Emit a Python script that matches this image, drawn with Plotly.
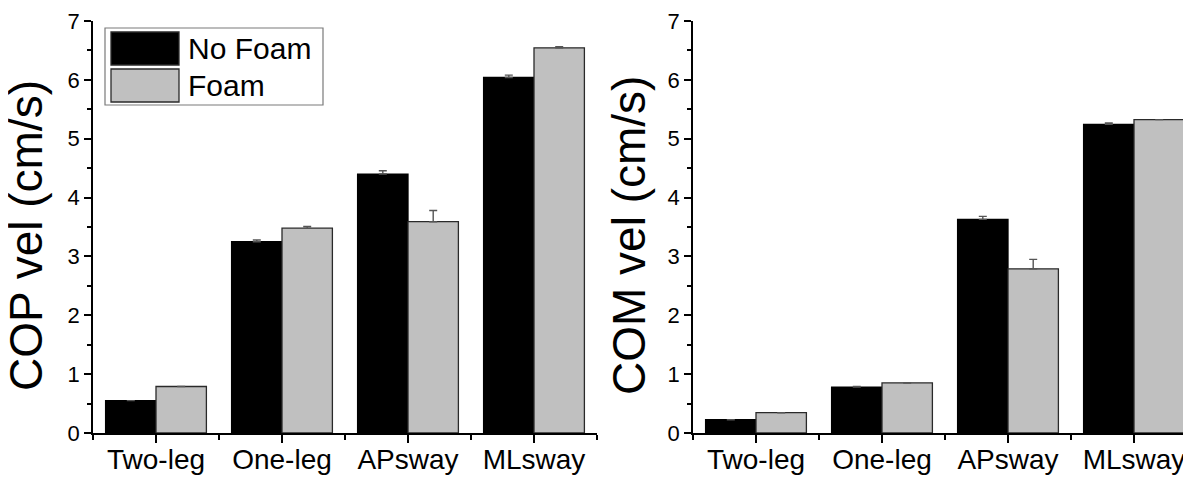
import plotly.graph_objects as go

# The page body has an 8px default margin; compensate so the chart lands
# at the same pixel positions as the reference inside a 1191x478 window.
OFF = 8
WIN_W, WIN_H = 1191, 478
W, H = WIN_W - OFF, WIN_H - OFF

categories = ["Two-leg", "One-leg", "APsway", "MLsway"]
series_names = ["No Foam", "Foam"]

cop_nofoam = [0.55, 3.25, 4.40, 6.04]
cop_nofoam_err = [0.0, 0.03, 0.055, 0.04]
cop_foam = [0.79, 3.48, 3.59, 6.545]
cop_foam_err = [0.0, 0.03, 0.19, 0.02]

com_nofoam = [0.225, 0.78, 3.63, 5.245]
com_nofoam_err = [0.0, 0.012, 0.05, 0.022]
com_foam = [0.345, 0.85, 2.79, 5.325]
com_foam_err = [0.0, 0.0, 0.16, 0.0]

y_titles = ["COP vel (cm/s)", "COM vel (cm/s)"]

FONT = "Arial, 'Liberation Sans', sans-serif"
colors = ["#000000", "#c0c0c0"]
outlines = ["#000000", "#2a2a2a"]

xpos = list(range(len(categories)))


def px(x):
    return (x - OFF) / W


def py(y):
    return 1 - (y - OFF) / H


fig = go.Figure()

panels = [
    ("x", "y", [cop_nofoam, cop_foam], [cop_nofoam_err, cop_foam_err]),
    ("x2", "y2", [com_nofoam, com_foam], [com_nofoam_err, com_foam_err]),
]
for xa, ya, vals, errs in panels:
    for i, name in enumerate(series_names):
        fig.add_trace(go.Bar(
            x=xpos, y=vals[i], name=name, xaxis=xa, yaxis=ya,
            offsetgroup=str(i),
            marker=dict(color=colors[i], line=dict(color=outlines[i], width=1.3)),
            error_y=dict(type="data", array=errs[i], arrayminus=[0] * len(errs[i]),
                         symmetric=False, color="#555555", thickness=1.4, width=4),
            showlegend=False,
        ))

axis_common = dict(
    showline=True, linecolor="black", linewidth=1.5, mirror=False,
    showgrid=False, zeroline=False, ticks="outside", tickcolor="black",
    tickwidth=1.5, automargin=False,
)

xcommon = dict(axis_common, tickmode="array", tickvals=xpos, ticktext=categories,
               ticklen=8, ticklabelstandoff=-7,
               tickfont=dict(family=FONT, size=28, color="black"),
               minor=dict(tick0=0.5, dtick=1, ticks="outside", ticklen=5,
                          tickwidth=1.5, tickcolor="black"))
ycommon = dict(axis_common, range=[0, 7], dtick=1, ticklen=7,
               tickfont=dict(family=FONT, size=22, color="black"),
               minor=dict(dtick=0.5, ticks="outside", ticklen=4,
                          tickwidth=1.5, tickcolor="black"))

ydom = [py(433), py(21)]
fig.update_layout(
    width=W, height=H,
    margin=dict(l=0, r=0, t=0, b=0),
    paper_bgcolor="white", plot_bgcolor="white",
    barmode="group", bargap=0.2, bargroupgap=0.0,
    xaxis=dict(xcommon, domain=[px(93), px(597)], range=[-0.5, 3.5], anchor="y"),
    yaxis=dict(ycommon, domain=ydom, anchor="x"),
    xaxis2=dict(xcommon, domain=[px(693), 1.0],
                range=[-0.5, -0.5 + (WIN_W - 693) / 126.0], anchor="y2"),
    yaxis2=dict(ycommon, domain=ydom, anchor="x2"),
    showlegend=False,
)

# y axis titles
for xc, txt in zip([26, 629], y_titles):
    fig.add_annotation(xref="paper", yref="paper", x=px(xc), y=py(236),
                       text=txt, textangle=-90, showarrow=False, borderpad=0,
                       xanchor="center", yanchor="middle",
                       font=dict(family=FONT, size=46, color="black"))

# custom legend (large swatches as in reference)
fig.add_shape(type="rect", xref="paper", yref="paper",
              x0=px(105), x1=px(323), y0=py(105), y1=py(28),
              line=dict(color="#7a7a7a", width=1.2), fillcolor="white")
sw_rows = [(32, 65), (69, 102)]
for i, name in enumerate(series_names):
    top, bot = sw_rows[i]
    fig.add_shape(type="rect", xref="paper", yref="paper",
                  x0=px(111), x1=px(179), y0=py(bot), y1=py(top),
                  line=dict(color="#2a2a2a", width=1.3), fillcolor=colors[i])
    fig.add_annotation(xref="paper", yref="paper", x=px(186), y=py((top + bot) / 2),
                       text=name, showarrow=False, xanchor="left", yanchor="middle",
                       font=dict(family=FONT, size=30, color="black"))

fig.write_html("out.html")
